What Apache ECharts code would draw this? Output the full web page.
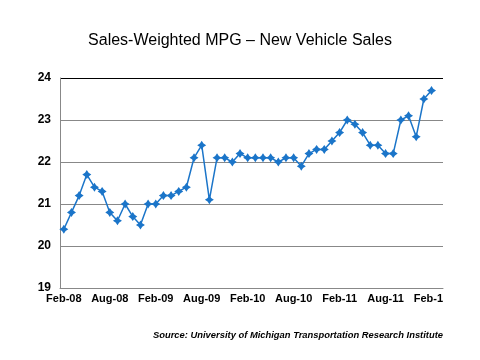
<!DOCTYPE html>
<html><head><meta charset="utf-8">
<script src="https://cdn.jsdelivr.net/npm/echarts@6/dist/echarts.min.js"></script>
<style>html,body{margin:0;padding:0;background:#fff}#c{width:480px;height:360px}</style>
</head><body><div id="c"></div>
<script>
const months = ['Jan','Feb','Mar','Apr','May','Jun','Jul','Aug','Sep','Oct','Nov','Dec'];
const categories = [];
for (let y = 2008; y <= 2012; y++) {
  for (let m = 0; m < 12; m++) {
    if (y === 2008 && m < 1) continue;
    if (y === 2012 && m > 2) break;
    categories.push(months[m] + '-' + String(y).slice(2));
  }
}
const mpg = [
  20.4, 20.8, 21.2, 21.7, 21.4, 21.3, 20.8, 20.6, 21.0, 20.7, 20.5,
  21.0, 21.0, 21.2, 21.2, 21.3, 21.4, 22.1, 22.4, 21.1, 22.1, 22.1, 22.0,
  22.2, 22.1, 22.1, 22.1, 22.1, 22.0, 22.1, 22.1, 21.9, 22.2, 22.3, 22.3,
  22.5, 22.7, 23.0, 22.9, 22.7, 22.4, 22.4, 22.2, 22.2, 23.0, 23.1, 22.6,
  23.5, 23.7, null
];
const titleText = 'Sales-Weighted MPG – New Vehicle Sales';
const sourceText = 'Source: University of Michigan Transportation Research Institute';

const chart = echarts.init(document.getElementById('c'));
chart.setOption({
  animation: false,
  title: [
    {text: titleText, left: 'center', top: 33, padding: 0,
     textStyle: {fontFamily: 'Liberation Sans, Arial', fontSize: 16, fontWeight: 'normal', color: '#000'}},
    {text: sourceText, right: 37, top: 331, padding: 0,
     textStyle: {fontFamily: 'Liberation Sans, Arial', fontSize: 9.4, fontWeight: 'bold', fontStyle: 'italic', color: '#000'}}
  ],
  grid: {left: 60, right: 37, top: 78, bottom: 72},
  xAxis: {
    type: 'category', data: categories, boundaryGap: true,
    axisLine: {lineStyle: {color: '#888', width: 1}},
    axisTick: {interval: 5, length: 5, lineStyle: {color: '#888'}},
    axisLabel: {interval: 5, color: '#000', fontFamily: 'Liberation Sans, Arial', fontSize: 11, fontWeight: 'bold', margin: 5}
  },
  yAxis: {
    type: 'value', min: 19, max: 24, interval: 1,
    axisLine: {show: true, lineStyle: {color: '#888'}},
    axisTick: {show: false},
    axisLabel: {color: '#000', fontFamily: 'Liberation Sans, Arial', fontSize: 12, fontWeight: 'bold', margin: 9},
    splitLine: {lineStyle: {color: ['#888','#888','#888','#888','#888','#000'], width: 1}}
  },
  series: [{
    type: 'line', data: mpg,
    showSymbol: true, showAllSymbol: true,
    symbol: 'path://M0,-10 L4,-4 L10,0 L4,4 L0,10 L-4,4 L-10,0 L-4,-4 Z',
    symbolSize: 9,
    itemStyle: {color: '#1b75c9'},
    lineStyle: {color: '#1b75c9', width: 1.5}
  }],
  graphic: [{type: 'rect', left: 443, top: 292, shape: {width: 37, height: 20}, style: {fill: '#fff'}, z: 100}]
});
</script></body></html>
